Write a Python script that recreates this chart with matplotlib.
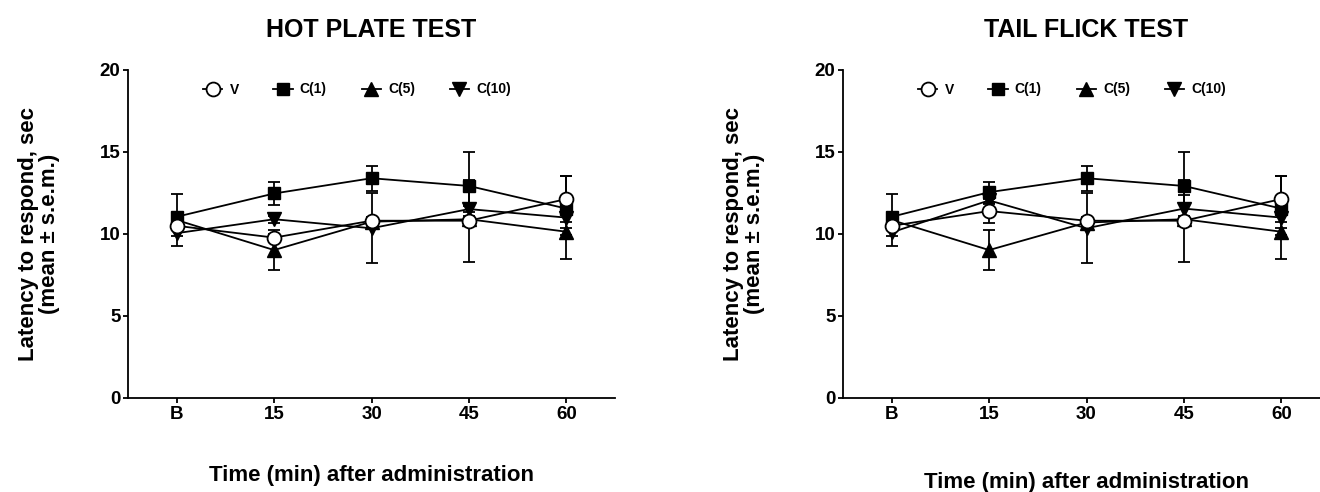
import matplotlib
matplotlib.use("Agg")
import matplotlib.pyplot as plt
import numpy as np

plt.rcParams['font.family'] = ['Liberation Sans', 'DejaVu Sans']
plt.rcParams['font.weight'] = 'bold'

# time points
times = ['B', '15', '30', '45', '60']

# HOT PLATE TEST - means and s.e.m.
hot_v = [10.5, 9.78, 10.81, 10.81, 12.13]
hot_v_sem = [0.2, 0.2, 0.2, 2.5, 1.4]
hot_c1 = [11.05, 12.47, 13.4, 12.93, 11.55]
hot_c1_sem = [0.2, 0.73, 0.77, 2.1, 0.2]
hot_c5 = [10.85, 9.02, 10.75, 10.9, 10.14]
hot_c5_sem = [1.57, 1.2, 0.2, 0.2, 0.2]
hot_c10 = [10.05, 10.9, 10.35, 11.52, 11.0]
hot_c10_sem = [0.2, 0.2, 2.14, 0.2, 2.55]

# TAIL FLICK TEST - means and s.e.m.
tail_v = [10.5, 11.4, 10.81, 10.81, 12.13]
tail_v_sem = [0.2, 0.75, 0.2, 2.5, 1.4]
tail_c1 = [11.05, 12.55, 13.4, 12.93, 11.55]
tail_c1_sem = [0.2, 0.65, 0.77, 2.1, 0.2]
tail_c5 = [10.85, 9.02, 10.7, 10.9, 10.14]
tail_c5_sem = [1.57, 1.2, 0.2, 0.2, 0.2]
tail_c10 = [10.1, 12.05, 10.35, 11.55, 11.0]
tail_c10_sem = [0.2, 0.2, 2.14, 0.83, 2.55]

labels = ['V', 'C(1)', 'C(5)', 'C(10)']

fig = plt.figure(figsize=(13.2, 4.92), dpi=100)
ax1 = fig.add_axes([128 / 1320, 94 / 492, 487 / 1320, 328 / 492])
ax2 = fig.add_axes([843 / 1320, 94 / 492, 487 / 1320, 328 / 492])


def draw_panel(ax, title, v, v_sem, c1, c1_sem, c5, c5_sem, c10, c10_sem, ylab_x, xlab_y):
    x = np.arange(len(times))
    common = dict(color='black', lw=1.3, elinewidth=1.3, capsize=4.5, capthick=1.3)
    # draw order: C(5), C(10), C(1), V on top
    h5 = ax.errorbar(x, c5, yerr=c5_sem, marker='^', ms=10, mfc='black', mec='black',
                     zorder=3, **common)
    h10 = ax.errorbar(x, c10, yerr=c10_sem, marker='v', ms=10, mfc='black', mec='black',
                      zorder=4, **common)
    h1 = ax.errorbar(x, c1, yerr=c1_sem, marker='s', ms=9, mfc='black', mec='black',
                     zorder=5, **common)
    hv = ax.errorbar(x, v, yerr=v_sem, marker='o', ms=10, mfc='white', mec='black',
                     mew=1.3, zorder=6, **common)

    ax.set_xlim(-0.5, 4.5)
    ax.set_ylim(0, 20)
    ax.set_xticks(x)
    ax.set_xticklabels(times)
    ax.set_yticks([0, 5, 10, 15, 20])
    for s in ['top', 'right']:
        ax.spines[s].set_visible(False)
    for s in ['left', 'bottom']:
        ax.spines[s].set_linewidth(1.3)
    ax.tick_params(axis='both', labelsize=13.5, width=1.3, length=3.5, pad=2)
    for t in ax.get_xticklabels() + ax.get_yticklabels():
        t.set_fontweight('bold')

    ax.set_title(title, fontsize=18, fontweight='bold', pad=24)
    ax.set_xlabel('Time (min) after administration', fontsize=16, fontweight='bold')
    ax.xaxis.set_label_coords(0.5, xlab_y)
    ax.set_ylabel('Latency to respond, sec\n(mean ± s.e.m.)', fontsize=16,
                  fontweight='bold', linespacing=1.0)
    ax.yaxis.set_label_coords(ylab_x, 0.5)

    # legend handles: line + marker only, no error caps
    handles = [hv.lines[0], h1.lines[0], h5.lines[0], h10.lines[0]]
    ax.legend(handles, labels, ncol=4, loc='upper center',
              bbox_to_anchor=(0.47, 1.0), frameon=False,
              prop={'weight': 'bold', 'size': 10},
              handlelength=1.4, handletextpad=0.5, columnspacing=2.5)


draw_panel(ax1, 'HOT PLATE TEST', hot_v, hot_v_sem, hot_c1, hot_c1_sem,
           hot_c5, hot_c5_sem, hot_c10, hot_c10_sem, -0.14, -0.205)
draw_panel(ax2, 'TAIL FLICK TEST', tail_v, tail_v_sem, tail_c1, tail_c1_sem,
           tail_c5, tail_c5_sem, tail_c10, tail_c10_sem, -0.16, -0.225)

fig.savefig('out.png', dpi=100)
